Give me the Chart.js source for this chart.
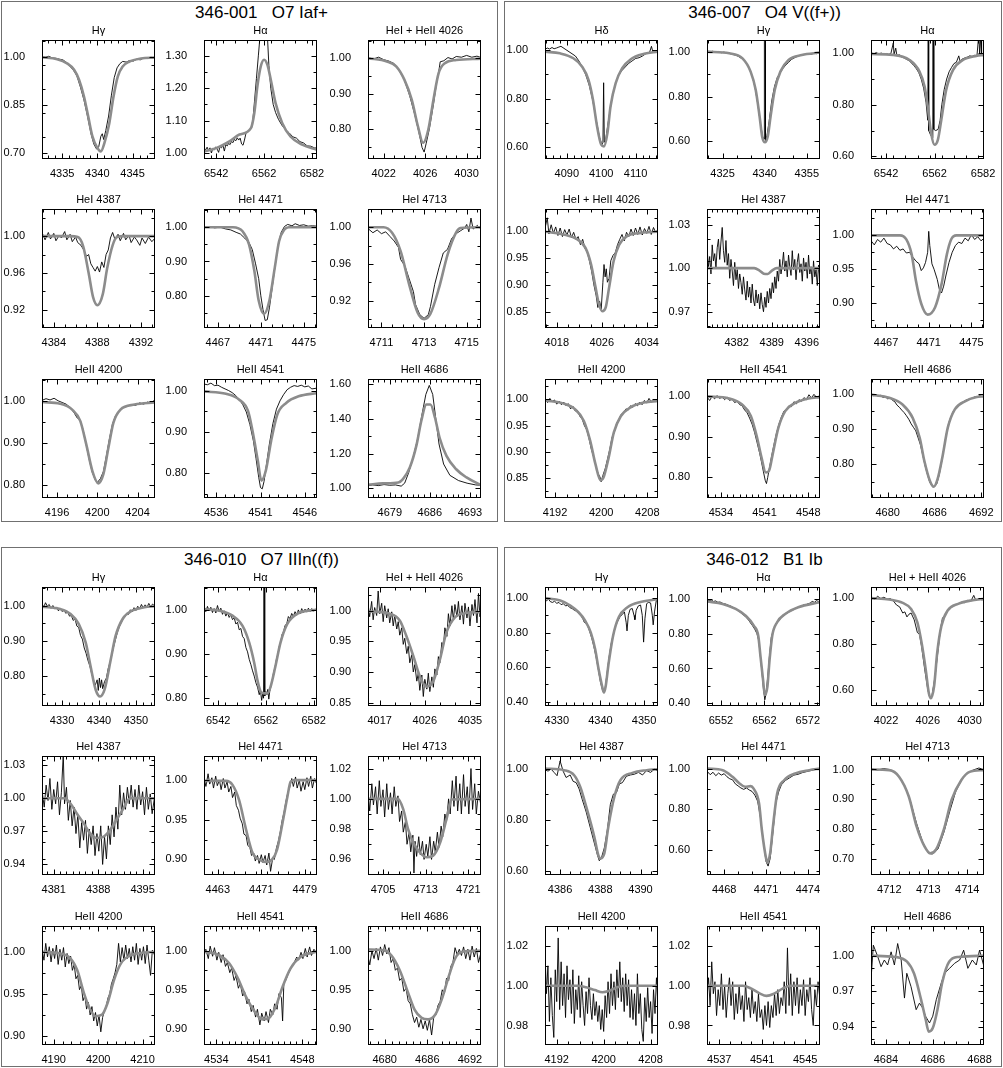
<!DOCTYPE html>
<html>
<head>
<meta charset="utf-8">
<script src="https://cdn.jsdelivr.net/npm/chart.js@4.4.1/dist/chart.umd.min.js"></script>
<style>
  body { margin: 0; background: #fff; }
  #page { position: relative; width: 1003px; height: 1068px; overflow: hidden; font-family: 'Liberation Sans', Arial, sans-serif; }
  .box { position: absolute; box-sizing: border-box; border: 1px solid #707070; }
  .star { position: absolute; width: 300px; text-align: center; font-size: 17px; line-height: 20px; white-space: pre; color: #000; }
  canvas { position: absolute; }
</style>
</head>
<body>
<div id="page"></div>
<script>
// ---------- 346-001  O7 Iaf+ ----------
const xt001Hg = [4335, 4340, 4345], yt001Hg = [0.70, 0.85, 1.00];
const fit001Hg = [[4332.1,0.998],[4334.3,0.992],[4335.7,0.979],[4336.7,0.959],[4337.4,0.928],[4338.1,0.876],[4338.7,0.814],[4339.3,0.752],[4340.0,0.716],[4340.5,0.705],[4341.0,0.731],[4341.7,0.793],[4342.3,0.876],[4342.9,0.938],[4343.6,0.969],[4344.5,0.984],[4346.2,0.994],[4348.2,0.997]];
const obs001Hg = [[4332.1,1.000],[4332.6,0.998],[4333.1,1.001],[4333.6,0.996],[4334.1,0.995],[4334.6,0.992],[4335.1,0.990],[4335.6,0.982],[4336.1,0.970],[4336.6,0.958],[4337.1,0.940],[4337.6,0.905],[4338.1,0.865],[4338.6,0.815],[4339.1,0.760],[4339.5,0.728],[4339.9,0.712],[4340.2,0.720],[4340.5,0.752],[4340.7,0.760],[4340.9,0.742],[4341.2,0.770],[4341.6,0.815],[4342.0,0.880],[4342.4,0.935],[4342.8,0.965],[4343.2,0.978],[4343.6,0.985],[4344.1,0.983],[4344.6,0.988],[4345.1,0.986],[4345.6,0.992],[4346.1,0.990],[4346.6,0.996],[4347.1,0.994],[4347.6,0.998],[4348.2,0.996]];

const xt001Ha = [6542, 6562, 6582], yt001Ha = [1.00, 1.10, 1.20, 1.30];
const fit001Ha = [[6536.9,1.005],[6542,1.015],[6547.5,1.036],[6551.7,1.057],[6556.5,1.077],[6557.9,1.123],[6559.2,1.206],[6560.6,1.267],[6562,1.288],[6563.4,1.272],[6564.8,1.226],[6566.8,1.154],[6569.6,1.092],[6573,1.051],[6577.9,1.026],[6584.1,1.010]];
const obs001Ha = [[6537,1.015],[6537.6,1.010],[6538.2,1.018],[6538.8,1.008],[6539.4,1.016],[6540,1.000],[6540.6,1.014],[6541.2,1.010],[6541.8,1.019],[6542.4,1.012],[6543,1.002],[6543.6,1.020],[6544.2,1.016],[6544.8,1.024],[6545.4,1.006],[6546,1.026],[6546.6,1.022],[6547.2,1.030],[6547.8,1.026],[6548.4,1.036],[6549,1.032],[6549.6,1.042],[6550.2,1.038],[6550.8,1.047],[6551.4,1.040],[6552,1.046],[6552.6,1.028],[6553.2,1.024],[6553.8,1.040],[6554.4,1.060],[6555,1.066],[6555.6,1.070],[6556.2,1.074],[6556.8,1.078],[6557.4,1.110],[6558,1.160],[6558.8,1.230],[6559.6,1.300],[6560.4,1.370],[6561.2,1.420],[6562,1.440],[6562.8,1.410],[6563.4,1.360],[6564,1.270],[6564.8,1.200],[6565.8,1.150],[6566.8,1.125],[6568,1.104],[6569.5,1.085],[6571,1.072],[6572.5,1.062],[6574,1.050],[6575.5,1.046],[6577,1.035],[6578.5,1.031],[6580,1.022],[6581.5,1.021],[6583,1.016],[6584.1,1.015]];

const xt001He26 = [4022, 4026, 4030], yt001He26 = [0.80, 0.90, 1.00];
const fit001He26 = [[4020.5,1.000],[4022.3,0.991],[4023.2,0.977],[4024.0,0.939],[4024.7,0.883],[4025.3,0.808],[4025.8,0.761],[4026.3,0.798],[4026.8,0.883],[4027.3,0.958],[4027.9,0.986],[4029.0,0.995],[4031.4,0.999]];
const obs001He26 = [[4020.5,1.002],[4021,0.998],[4021.5,1.003],[4022,0.996],[4022.5,0.992],[4023,0.985],[4023.5,0.965],[4024,0.938],[4024.5,0.895],[4025,0.840],[4025.4,0.790],[4025.7,0.748],[4025.9,0.735],[4026.1,0.760],[4026.4,0.800],[4026.8,0.870],[4027.1,0.930],[4027.3,0.960],[4027.45,0.990],[4027.8,0.993],[4028.2,1.002],[4028.6,0.998],[4029,1.005],[4029.5,1.003],[4030,1.008],[4030.5,1.003],[4031,1.006],[4031.4,1.002]];

const xt001He87 = [4384, 4388, 4392], yt001He87 = [0.92, 0.96, 1.00];
const fit001He87 = [[4382.9,1.0],[4385.5,1.0],[4386.2,0.999],[4386.7,0.989],[4387.2,0.960],[4387.6,0.934],[4388.0,0.925],[4388.5,0.937],[4388.9,0.965],[4389.4,0.990],[4389.8,0.999],[4390.5,1.0],[4393.3,1.0]];
const obs001He87 = [[4383.0,1.002],[4383.2,0.996],[4383.5,1.004],[4383.7,0.997],[4384.0,1.003],[4384.2,0.995],[4384.5,1.001],[4384.7,0.998],[4385.0,1.005],[4385.2,0.996],[4385.5,1.002],[4385.7,0.994],[4386.0,0.999],[4386.2,0.993],[4386.5,0.990],[4386.8,0.984],[4387.0,0.978],[4387.2,0.980],[4387.4,0.970],[4387.6,0.966],[4387.8,0.962],[4388.0,0.967],[4388.2,0.961],[4388.4,0.972],[4388.6,0.966],[4388.8,0.980],[4389.0,0.985],[4389.2,0.998],[4389.4,1.004],[4389.6,0.997],[4389.9,1.002],[4390.1,0.995],[4390.4,1.003],[4390.6,0.996],[4390.9,1.001],[4391.1,0.993],[4391.4,0.999],[4391.6,0.996],[4391.9,0.990],[4392.1,0.998],[4392.4,0.992],[4392.7,0.999],[4393.0,0.994],[4393.3,0.998]];

const xt001He71 = [4467, 4471, 4475], yt001He71 = [0.80, 0.90, 1.00];
const fit001He71 = [[4465.7,1.0],[4468.4,1.0],[4469.3,0.988],[4469.9,0.950],[4470.4,0.872],[4470.8,0.786],[4471.3,0.747],[4471.8,0.786],[4472.3,0.882],[4472.7,0.959],[4473.2,0.993],[4473.6,1.0],[4476.2,1.0]];
const obs001He71 = [[4465.7,1.0],[4466.2,1.002],[4466.7,0.998],[4467.2,1.0],[4467.7,0.995],[4468.2,0.992],[4468.7,0.985],[4469.1,0.980],[4469.5,0.968],[4469.9,0.955],[4470.2,0.935],[4470.5,0.895],[4470.8,0.850],[4471.0,0.800],[4471.2,0.760],[4471.4,0.728],[4471.6,0.730],[4471.8,0.765],[4472.0,0.810],[4472.3,0.880],[4472.6,0.945],[4472.9,0.985],[4473.2,1.002],[4473.5,1.008],[4473.9,1.004],[4474.2,1.010],[4474.6,1.005],[4475.0,1.007],[4475.4,1.003],[4475.8,1.004],[4476.2,1.003]];

const xt001He13 = [4711, 4713, 4715], yt001He13 = [0.92, 0.96, 1.00];
const fit001He13 = [[4710.4,1.0],[4711.1,1.0],[4711.5,0.994],[4711.9,0.974],[4712.3,0.938],[4712.7,0.907],[4713.0,0.900],[4713.3,0.906],[4713.7,0.934],[4714.1,0.970],[4714.5,0.994],[4714.7,0.999],[4715.7,1.0]];
const obs001He13 = [[4710.4,0.998],[4710.6,0.994],[4710.8,0.997],[4711.0,0.993],[4711.2,0.995],[4711.4,0.990],[4711.6,0.985],[4711.8,0.978],[4711.9,0.965],[4712.1,0.958],[4712.3,0.944],[4712.5,0.930],[4712.6,0.916],[4712.8,0.905],[4713.0,0.901],[4713.2,0.905],[4713.3,0.914],[4713.5,0.938],[4713.7,0.956],[4713.9,0.972],[4714.1,0.976],[4714.3,0.988],[4714.5,0.993],[4714.7,0.996],[4714.9,0.999],[4715.0,1.003],[4715.1,0.995],[4715.2,1.010],[4715.3,0.998],[4715.5,1.002],[4715.7,0.997]];

const xt001He00 = [4196, 4200, 4204], yt001He00 = [0.80, 0.90, 1.00];
const fit001He00 = [[4194.5,0.998],[4196.3,0.994],[4197.5,0.980],[4198.3,0.953],[4198.9,0.897],[4199.5,0.834],[4200.1,0.804],[4200.6,0.826],[4201.1,0.889],[4201.6,0.949],[4202.3,0.980],[4203.7,0.992],[4205.7,0.997]];
const obs001He00 = [[4194.5,1.002],[4194.9,1.006],[4195.3,1.003],[4195.7,1.007],[4196.1,1.001],[4196.5,0.997],[4196.9,0.993],[4197.3,0.985],[4197.7,0.972],[4198.0,0.960],[4198.3,0.955],[4198.6,0.930],[4198.9,0.895],[4199.2,0.860],[4199.5,0.830],[4199.8,0.812],[4200.0,0.806],[4200.3,0.815],[4200.6,0.832],[4200.9,0.870],[4201.2,0.910],[4201.5,0.945],[4201.8,0.965],[4202.2,0.978],[4202.6,0.985],[4203.0,0.988],[4203.4,0.992],[4203.8,0.990],[4204.2,0.996],[4204.6,0.993],[4205.0,0.998],[4205.4,0.995],[4205.7,1.004]];

const xt001He41 = [4536, 4541, 4546], yt001He41 = [0.80, 0.90, 1.00];
const fit001He41 = [[4534.6,0.998],[4537.1,0.992],[4538.6,0.978],[4539.6,0.950],[4540.1,0.902],[4540.7,0.830],[4541.1,0.782],[4541.6,0.806],[4542.2,0.878],[4542.9,0.942],[4543.9,0.970],[4545.3,0.986],[4547.4,0.994]];
const obs001He41 = [[4534.6,1.016],[4535.0,1.014],[4535.4,1.018],[4535.8,1.012],[4536.2,1.013],[4536.6,1.008],[4537.0,1.004],[4537.4,1.000],[4537.8,0.995],[4538.2,0.988],[4538.6,0.978],[4539.0,0.966],[4539.4,0.948],[4539.8,0.918],[4540.2,0.878],[4540.5,0.835],[4540.8,0.790],[4541.0,0.765],[4541.2,0.762],[4541.4,0.780],[4541.7,0.825],[4542.0,0.870],[4542.4,0.920],[4542.8,0.955],[4543.2,0.975],[4543.6,0.990],[4544.0,1.002],[4544.4,1.008],[4544.8,1.012],[4545.2,1.010],[4545.6,1.013],[4546.0,1.009],[4546.4,1.011],[4546.8,1.004],[4547.4,1.006]];

const xt001He86 = [4679, 4686, 4693], yt001He86 = [1.00, 1.20, 1.40, 1.60];
const fit001He86 = [[4675.2,1.021],[4677.8,1.029],[4680.5,1.034],[4681.3,1.053],[4682.5,1.120],[4683.7,1.253],[4684.5,1.387],[4685.4,1.482],[4686.1,1.482],[4686.9,1.406],[4687.7,1.291],[4688.9,1.187],[4690.6,1.110],[4692.4,1.063],[4694.9,1.019]];
const obs001He86 = [[4675.2,1.015],[4676.0,1.020],[4677.0,1.016],[4678.0,1.022],[4679.0,1.018],[4680.0,1.020],[4681.0,1.013],[4681.6,1.030],[4682.3,1.090],[4683.1,1.180],[4683.9,1.290],[4684.6,1.420],[4685.3,1.540],[4685.9,1.592],[4686.5,1.540],[4687.0,1.410],[4687.6,1.255],[4688.4,1.140],[4689.5,1.075],[4691.0,1.045],[4692.5,1.030],[4694.0,1.020],[4694.9,1.018]];

// ---------- 346-007  O4 V((f+)) ----------
const xt007Hd = [4090, 4100, 4110], yt007Hd = [0.60, 0.80, 1.00];
const fit007Hd = [[4083.7,0.993],[4088.0,0.986],[4091.9,0.966],[4094.4,0.932],[4096.3,0.877],[4097.6,0.795],[4098.8,0.685],[4100.0,0.610],[4100.8,0.603],[4101.8,0.658],[4102.7,0.767],[4104.2,0.863],[4106.1,0.925],[4108.6,0.962],[4112.5,0.984],[4116.5,0.993]];
const obs007Hd = [[4083.7,1.002],[4084.3,1.008],[4085.0,1.004],[4085.7,1.010],[4086.3,1.005],[4087.0,1.008],[4087.7,1.012],[4088.3,1.015],[4092.5,0.975],[4093.5,0.955],[4094.5,0.930],[4095.5,0.898],[4096.5,0.855],[4097.5,0.795],[4098.5,0.715],[4099.5,0.640],[4100.2,0.610],[4100.5,0.620],[4100.7,0.865],[4100.9,0.620],[4101.3,0.630],[4102.0,0.700],[4103.0,0.790],[4104.0,0.855],[4105.0,0.895],[4106.0,0.915],[4107.0,0.930],[4108.0,0.945],[4109.0,0.955],[4110.0,0.965],[4111.0,0.968],[4112.0,0.975],[4113.0,0.985],[4114.0,0.988],[4114.6,1.015],[4115.0,0.992],[4115.8,0.995],[4116.5,0.993]];

const xt007Hg = [4325, 4340, 4355], yt007Hg = [0.60, 0.80, 1.00];
const fit007Hg = [[4319.5,1.0],[4327.4,0.993],[4332.1,0.970],[4335.0,0.911],[4336.8,0.830],[4338.2,0.711],[4339.1,0.622],[4340.1,0.596],[4341.1,0.622],[4342.1,0.711],[4343.6,0.830],[4345.6,0.911],[4348.5,0.963],[4353.2,0.985],[4359.7,0.996]];
const obs007Hg = [[4319.5,1.003],[4320.5,0.997],[4321.5,1.002],[4322.5,0.998],[4323.5,1.001],[4324.5,0.995],[4325.5,0.998],[4326.5,0.994],[4327.5,0.992],[4328.5,0.988],[4329.5,0.985],[4330.5,0.980],[4331.5,0.972],[4332.5,0.963],[4333.5,0.948],[4334.5,0.925],[4335.5,0.893],[4336.5,0.845],[4337.5,0.770],[4338.5,0.680],[4339.3,0.620],[4339.8,0.610],[4339.9,1.08],[4340.2,1.08],[4340.3,0.605],[4340.8,0.625],[4341.6,0.690],[4342.5,0.780],[4343.5,0.845],[4344.5,0.885],[4345.5,0.905],[4346.5,0.925],[4347.5,0.940],[4348.5,0.952],[4349.5,0.965],[4350.5,0.972],[4351.5,0.978],[4352.5,0.983],[4353.5,0.985],[4354.5,0.988],[4355.5,0.990],[4356.5,0.988],[4357.5,0.993],[4358.5,0.991],[4359.7,0.995]];

const xt007Ha = [6542, 6562, 6582], yt007Ha = [0.60, 0.80, 1.00];
const fit007Ha = [[6535.8,0.997],[6544.8,0.994],[6551.7,0.974],[6555.8,0.929],[6557.9,0.871],[6559.2,0.794],[6560.6,0.690],[6562.0,0.645],[6563.4,0.665],[6564.8,0.742],[6566.8,0.858],[6569.6,0.935],[6573.7,0.974],[6579.2,0.990],[6582.4,0.994]];
const obs007Ha = [[6535.8,1.002],[6537,0.998],[6538,1.003],[6539,0.997],[6540,1.001],[6541,0.996],[6542,1.000],[6543,0.995],[6544,0.999],[6545,1.040],[6545.3,0.995],[6546,1.020],[6546.5,0.990],[6547.5,0.994],[6548.5,0.985],[6549.5,0.982],[6550.5,0.976],[6551.5,0.972],[6552.5,0.962],[6553.5,0.952],[6554.5,0.940],[6555.5,0.925],[6556.5,0.900],[6557.5,0.865],[6558.5,0.810],[6559.2,0.740],[6559.4,1.08],[6559.6,0.700],[6560.5,0.680],[6561.2,0.672],[6561.3,1.08],[6561.6,1.08],[6561.7,0.705],[6562.5,0.700],[6563.5,0.705],[6564.3,0.740],[6565.0,0.800],[6566,0.860],[6567,0.900],[6568,0.928],[6569,0.945],[6570,0.960],[6571,0.965],[6572,0.990],[6572.5,0.970],[6573.5,0.978],[6574.5,0.982],[6575.5,0.985],[6576.5,0.990],[6577.5,0.988],[6578.5,0.992],[6579.5,0.990],[6580.3,1.08],[6580.6,0.993],[6581.2,1.08],[6581.4,0.995],[6582.4,0.994]];

const xt007He26 = [4018, 4026, 4034], yt007He26 = [0.85, 0.90, 0.95, 1.00];
const fit007He26 = [[4015.9,0.999],[4019.2,0.994],[4021.6,0.985],[4023.1,0.969],[4024.1,0.938],[4024.9,0.895],[4025.5,0.864],[4026.1,0.851],[4026.7,0.858],[4027.3,0.895],[4028.1,0.944],[4029.1,0.975],[4030.5,0.991],[4032.9,0.997],[4036.0,0.999]];
const obs007He26 = [[4016.0,1.010],[4016.3,1.025],[4016.6,0.995],[4017.0,1.012],[4017.4,0.996],[4017.8,1.008],[4018.2,0.992],[4018.6,1.006],[4019.0,0.990],[4019.4,1.003],[4019.8,0.993],[4020.2,1.004],[4020.6,0.988],[4021.0,0.998],[4021.4,0.985],[4021.8,0.990],[4022.2,0.975],[4022.6,0.985],[4023.0,0.968],[4023.4,0.962],[4023.8,0.945],[4024.2,0.925],[4024.6,0.900],[4025.0,0.880],[4025.3,0.858],[4025.6,0.870],[4025.9,0.855],[4026.2,0.905],[4026.4,0.938],[4026.6,0.915],[4026.8,0.930],[4027.0,0.905],[4027.3,0.912],[4027.6,0.945],[4028.0,0.955],[4028.4,0.960],[4028.8,0.975],[4029.2,0.985],[4029.6,0.994],[4030.0,0.982],[4030.4,0.998],[4030.8,0.990],[4031.2,1.004],[4031.6,0.992],[4032.0,1.006],[4032.4,0.994],[4032.8,1.008],[4033.2,0.993],[4033.6,1.005],[4034.0,0.996],[4034.4,1.009],[4034.8,0.994],[4035.2,1.007],[4035.6,0.997],[4036.0,1.004]];

const xt007He87 = [4382, 4389, 4396], yt007He87 = [0.97, 1.00, 1.03];
const fit007He87 = [[4376.1,1.0],[4385.5,1.0],[4386.5,0.9985],[4387.4,0.9962],[4388.2,0.996],[4389.1,0.9985],[4390.0,1.0],[4398.6,1.0]];
const obs007He87 = [[4376.1,1.012],[4376.35,1.001],[4376.6,1.008],[4376.85,0.996],[4377.1,1.016],[4377.35,1.005],[4377.6,1.010],[4377.85,1.000],[4378.1,1.014],[4378.35,1.020],[4378.6,1.006],[4378.85,1.018],[4379.1,1.028],[4379.35,1.012],[4379.6,1.004],[4379.85,1.019],[4380.1,1.002],[4380.35,1.010],[4380.6,0.993],[4380.85,1.006],[4381.1,0.998],[4381.35,0.988],[4381.6,1.004],[4381.85,0.992],[4382.1,0.999],[4382.35,0.986],[4382.6,0.996],[4382.85,0.990],[4383.1,0.982],[4383.35,0.994],[4383.6,0.985],[4383.85,0.978],[4384.1,0.991],[4384.35,0.980],[4384.6,0.987],[4384.85,0.976],[4385.1,0.989],[4385.35,0.978],[4385.6,0.974],[4385.85,0.985],[4386.1,0.976],[4386.35,0.982],[4386.6,0.972],[4386.85,0.983],[4387.1,0.975],[4387.35,0.970],[4387.6,0.980],[4387.85,0.973],[4388.1,0.984],[4388.35,0.976],[4388.6,0.986],[4388.85,0.979],[4389.1,0.990],[4389.35,0.983],[4389.6,0.994],[4389.85,0.986],[4390.1,0.998],[4390.35,0.991],[4390.6,1.006],[4390.85,0.996],[4391.1,1.002],[4391.35,1.011],[4391.6,0.998],[4391.85,1.005],[4392.1,0.994],[4392.35,1.009],[4392.6,1.001],[4392.85,0.995],[4393.1,1.012],[4393.35,0.999],[4393.6,1.006],[4393.85,0.992],[4394.1,1.004],[4394.35,1.010],[4394.6,0.997],[4394.85,1.003],[4395.1,0.991],[4395.35,1.007],[4395.6,0.998],[4395.85,1.004],[4396.1,0.993],[4396.35,1.009],[4396.6,0.996],[4396.85,1.001],[4397.1,0.989],[4397.35,1.005],[4397.6,0.994],[4397.85,0.999],[4398.1,0.988],[4398.35,1.002],[4398.6,0.994]];

const xt007He71 = [4467, 4471, 4475], yt007He71 = [0.90, 0.95, 1.00];
const fit007He71 = [[4465.6,1.0],[4468.3,1.0],[4468.9,0.994],[4469.4,0.972],[4469.8,0.933],[4470.3,0.899],[4470.9,0.883],[4471.6,0.894],[4472.2,0.928],[4472.7,0.972],[4473.1,0.994],[4473.6,1.0],[4476.2,1.0]];
const obs007He71 = [[4465.6,0.992],[4465.9,0.986],[4466.2,0.994],[4466.5,0.990],[4466.8,0.996],[4467.1,0.988],[4467.4,0.986],[4467.7,0.980],[4468.0,0.984],[4468.3,0.978],[4468.6,0.980],[4468.9,0.974],[4469.2,0.975],[4469.5,0.968],[4469.8,0.962],[4470.1,0.958],[4470.3,0.948],[4470.5,0.952],[4470.7,0.960],[4470.9,0.975],[4471.0,1.006],[4471.1,0.985],[4471.3,0.958],[4471.5,0.950],[4471.8,0.935],[4472.0,0.920],[4472.2,0.915],[4472.4,0.925],[4472.6,0.940],[4472.9,0.960],[4473.2,0.975],[4473.5,0.985],[4473.8,0.990],[4474.1,0.988],[4474.4,0.996],[4474.7,0.992],[4475.0,1.001],[4475.3,0.994],[4475.6,0.998],[4475.9,0.992],[4476.2,0.996]];

const xt007He00 = [4192, 4200, 4208], yt007He00 = [0.85, 0.90, 0.95, 1.00];
const fit007He00 = [[4190.3,0.998],[4193.5,0.992],[4195.5,0.981],[4197.0,0.959],[4198.1,0.921],[4199.0,0.877],[4199.9,0.846],[4200.4,0.851],[4201.3,0.889],[4202.2,0.937],[4203.4,0.968],[4205.1,0.985],[4207.4,0.994],[4209.9,0.997]];
const obs007He00 = [[4190.3,1.000],[4190.7,0.994],[4191.1,1.002],[4191.5,0.996],[4191.9,0.999],[4192.3,0.991],[4192.7,0.997],[4193.1,0.990],[4193.5,0.995],[4193.9,0.988],[4194.3,0.992],[4194.7,0.982],[4195.1,0.987],[4195.5,0.978],[4195.9,0.979],[4196.3,0.968],[4196.7,0.963],[4197.1,0.950],[4197.5,0.942],[4197.9,0.925],[4198.3,0.905],[4198.7,0.890],[4199.1,0.872],[4199.5,0.858],[4199.8,0.852],[4200.0,0.843],[4200.3,0.855],[4200.7,0.868],[4201.1,0.886],[4201.5,0.905],[4201.9,0.928],[4202.3,0.938],[4202.7,0.955],[4203.1,0.962],[4203.5,0.972],[4203.9,0.975],[4204.3,0.982],[4204.7,0.980],[4205.1,0.988],[4205.5,0.985],[4205.9,0.992],[4206.3,0.988],[4206.7,0.995],[4207.1,0.990],[4207.5,0.998],[4207.9,0.993],[4208.3,1.002],[4208.7,0.995],[4209.1,0.999],[4209.5,0.996],[4209.9,1.000]];

const xt007He41 = [4534, 4541, 4548], yt007He41 = [0.80, 0.90, 1.00];
const fit007He41 = [[4531.8,0.998],[4535.3,0.993],[4537.4,0.978],[4538.8,0.950],[4539.8,0.897],[4540.5,0.849],[4541.2,0.812],[4541.7,0.816],[4542.3,0.857],[4543.2,0.921],[4544.3,0.962],[4545.9,0.982],[4548.0,0.993],[4549.9,0.996]];
const obs007He41 = [[4531.8,0.996],[4532.2,0.988],[4532.6,0.998],[4533.0,0.992],[4533.4,1.000],[4533.8,0.993],[4534.2,0.997],[4534.6,0.990],[4535.0,0.996],[4535.4,0.988],[4535.8,0.992],[4536.2,0.983],[4536.6,0.986],[4537.0,0.978],[4537.4,0.975],[4537.8,0.965],[4538.2,0.958],[4538.6,0.945],[4539.0,0.930],[4539.4,0.910],[4539.8,0.885],[4540.2,0.860],[4540.5,0.838],[4540.8,0.815],[4541.1,0.793],[4541.3,0.785],[4541.5,0.800],[4541.8,0.825],[4542.1,0.850],[4542.5,0.880],[4542.9,0.908],[4543.3,0.930],[4543.7,0.948],[4544.1,0.962],[4544.5,0.965],[4544.9,0.975],[4545.3,0.973],[4545.7,0.985],[4546.1,0.980],[4546.5,0.990],[4546.9,0.986],[4547.3,0.995],[4547.7,0.990],[4548.1,1.002],[4548.5,0.994],[4548.9,1.003],[4549.3,0.996],[4549.9,1.000]];

const xt007He86 = [4680, 4686, 4692], yt007He86 = [0.80, 0.90, 1.00];
const fit007He86 = [[4677.9,0.998],[4680.2,0.989],[4681.9,0.970],[4683.2,0.932],[4684.1,0.875],[4684.7,0.809],[4685.4,0.753],[4685.9,0.736],[4686.4,0.758],[4687.0,0.819],[4687.7,0.904],[4688.6,0.956],[4689.9,0.979],[4691.4,0.991],[4692.3,0.993]];
const obs007He86 = [[4677.9,0.999],[4678.2,0.995],[4678.5,0.997],[4678.8,0.993],[4679.1,0.996],[4679.4,0.990],[4679.7,0.992],[4680.0,0.986],[4680.3,0.988],[4680.6,0.982],[4680.9,0.978],[4681.2,0.968],[4681.5,0.962],[4681.8,0.954],[4682.1,0.947],[4682.4,0.938],[4682.7,0.928],[4683.0,0.915],[4683.3,0.905],[4683.6,0.895],[4683.9,0.875],[4684.2,0.855],[4684.5,0.825],[4684.8,0.795],[4685.1,0.770],[4685.4,0.748],[4685.7,0.738],[4686.0,0.736],[4686.3,0.745],[4686.6,0.770],[4686.9,0.805],[4687.2,0.845],[4687.5,0.885],[4687.8,0.915],[4688.1,0.935],[4688.4,0.950],[4688.8,0.962],[4689.2,0.972],[4689.6,0.976],[4690.0,0.982],[4690.4,0.985],[4690.8,0.988],[4691.2,0.992],[4691.6,0.993],[4692.0,0.998],[4692.3,0.999]];

// ---------- 346-010  O7 IIIn((f)) ----------
const xt010Hg = [4330, 4340, 4350], yt010Hg = [0.80, 0.90, 1.00];
const fit010Hg = [[4324.5,0.997],[4329.5,0.990],[4332.3,0.976],[4334.5,0.948],[4336.4,0.895],[4337.7,0.829],[4339.1,0.762],[4340.3,0.743],[4341.5,0.762],[4343.2,0.848],[4344.5,0.914],[4346.4,0.962],[4349.1,0.986],[4352.3,0.995],[4355.2,0.998]];
const obs010Hg = [[4324.6,1.005],[4325.0,0.995],[4325.5,1.008],[4326.0,0.998],[4326.5,1.003],[4327.0,0.992],[4327.5,1.000],[4328.0,0.990],[4328.5,0.996],[4329.0,0.985],[4329.5,0.992],[4330.0,0.983],[4330.5,0.988],[4331.0,0.978],[4331.5,0.982],[4332.0,0.970],[4332.5,0.972],[4333.0,0.958],[4333.5,0.962],[4334.0,0.942],[4334.5,0.938],[4335.0,0.915],[4335.5,0.905],[4336.0,0.880],[4336.5,0.865],[4337.0,0.845],[4337.5,0.830],[4338.0,0.808],[4338.5,0.790],[4339.0,0.775],[4339.5,0.790],[4339.8,0.760],[4340.1,0.795],[4340.4,0.768],[4340.7,0.790],[4341.0,0.765],[4341.5,0.785],[4342.0,0.795],[4342.5,0.822],[4343.0,0.840],[4343.5,0.862],[4344.0,0.885],[4344.5,0.905],[4345.0,0.925],[4345.5,0.940],[4346.0,0.952],[4346.5,0.962],[4347.0,0.968],[4347.5,0.978],[4348.0,0.975],[4348.5,0.988],[4349.0,0.982],[4349.5,0.994],[4350.0,0.986],[4350.5,0.998],[4351.0,0.990],[4351.5,1.003],[4352.0,0.993],[4352.5,1.002],[4353.0,0.995],[4353.5,1.006],[4354.0,0.996],[4354.5,1.004],[4355.2,0.998]];

const xt010Ha = [6542, 6562, 6582], yt010Ha = [0.80, 0.90, 1.00];
const fit010Ha = [[6536.1,1.002],[6542.6,0.998],[6548.0,0.987],[6552.2,0.964],[6555.0,0.926],[6557.1,0.880],[6558.4,0.842],[6559.8,0.815],[6561.2,0.811],[6562.6,0.811],[6564.0,0.827],[6566.0,0.873],[6568.1,0.926],[6570.9,0.968],[6575.0,0.991],[6583.4,1.001]];
const obs010Ha = [[6536.1,1.005],[6536.8,0.996],[6537.5,1.008],[6538.2,0.998],[6538.9,1.006],[6539.6,0.994],[6540.3,1.003],[6541.0,0.993],[6541.7,1.010],[6542.4,0.996],[6543.1,1.004],[6543.8,0.990],[6544.5,0.998],[6545.2,0.986],[6545.9,0.994],[6546.6,0.983],[6547.3,0.989],[6548.0,0.978],[6548.7,0.982],[6549.4,0.968],[6550.1,0.972],[6550.8,0.955],[6551.5,0.958],[6552.2,0.940],[6552.9,0.935],[6553.6,0.915],[6554.3,0.905],[6555.0,0.888],[6555.7,0.876],[6556.4,0.862],[6557.1,0.850],[6557.8,0.835],[6558.5,0.825],[6559.2,0.808],[6559.7,0.818],[6560.2,0.795],[6560.7,0.812],[6561.0,0.800],[6561.2,1.08],[6561.4,1.08],[6561.6,0.805],[6562.0,0.815],[6562.4,0.808],[6562.8,0.820],[6563.2,0.798],[6563.6,0.815],[6564.0,0.825],[6564.6,0.840],[6565.2,0.858],[6565.8,0.870],[6566.4,0.888],[6567.0,0.900],[6567.6,0.918],[6568.2,0.928],[6568.8,0.945],[6569.4,0.950],[6570.0,0.965],[6570.7,0.968],[6571.4,0.985],[6572.1,0.980],[6572.8,0.992],[6573.5,0.985],[6574.2,0.996],[6574.9,0.988],[6575.6,1.000],[6576.3,0.991],[6577.0,1.003],[6577.7,0.994],[6578.4,1.002],[6579.1,0.995],[6579.8,1.004],[6580.5,0.996],[6581.2,1.003],[6581.9,0.997],[6582.6,1.001],[6583.4,0.998]];

const xt010He26 = [4017, 4026, 4035], yt010He26 = [0.85, 0.90, 0.95, 1.00];
const fit010He26 = [[4014.7,0.999],[4019.0,0.995],[4021.0,0.984],[4022.3,0.959],[4023.7,0.926],[4025.0,0.893],[4026.3,0.876],[4027.7,0.885],[4029.0,0.920],[4030.3,0.964],[4032.0,0.989],[4034.3,0.996],[4037.2,0.998]];
const obs010He26 = [[4014.7,1.010],[4015.0,0.990],[4015.4,1.015],[4015.7,0.985],[4016.0,1.005],[4016.4,0.992],[4016.7,1.032],[4017.0,0.995],[4017.4,1.012],[4017.7,0.982],[4018.0,1.008],[4018.4,0.988],[4018.7,1.003],[4019.0,0.980],[4019.4,0.998],[4019.7,0.975],[4020.0,0.992],[4020.4,0.970],[4020.7,0.982],[4021.0,0.960],[4021.4,0.972],[4021.7,0.945],[4022.0,0.955],[4022.4,0.930],[4022.7,0.942],[4023.0,0.915],[4023.4,0.928],[4023.7,0.900],[4024.0,0.912],[4024.4,0.885],[4024.7,0.898],[4025.0,0.870],[4025.4,0.895],[4025.7,0.860],[4026.0,0.888],[4026.4,0.872],[4026.7,0.898],[4027.0,0.868],[4027.4,0.892],[4027.7,0.875],[4028.0,0.905],[4028.4,0.895],[4028.7,0.925],[4029.0,0.915],[4029.4,0.948],[4029.7,0.940],[4030.0,0.972],[4030.4,0.958],[4030.7,0.995],[4031.0,0.975],[4031.4,1.008],[4031.7,0.985],[4032.0,1.010],[4032.4,0.990],[4032.7,1.015],[4033.0,0.985],[4033.4,1.008],[4033.7,0.978],[4034.0,1.012],[4034.4,0.988],[4034.7,1.006],[4035.0,0.975],[4035.4,1.010],[4035.7,0.992],[4036.0,1.018],[4036.4,0.980],[4036.7,1.028],[4037.0,0.990],[4037.2,1.005]];

const xt010He87 = [4381, 4388, 4395], yt010He87 = [0.94, 0.97, 1.00, 1.03];
const fit010He87 = [[4379.2,1.0],[4382.6,1.0],[4383.6,0.9955],[4384.6,0.9865],[4385.7,0.9775],[4386.7,0.9685],[4387.8,0.964],[4388.8,0.965],[4389.9,0.9715],[4390.9,0.9805],[4392.0,0.991],[4392.7,0.9985],[4393.3,1.0],[4396.9,1.0]];
const obs010He87 = [[4379.2,1.005],[4379.5,0.992],[4379.8,1.012],[4380.1,0.998],[4380.4,1.018],[4380.7,0.990],[4381.0,1.008],[4381.3,0.995],[4381.6,1.015],[4381.9,0.985],[4382.2,1.005],[4382.5,1.040],[4382.7,0.995],[4383.0,1.010],[4383.3,0.980],[4383.6,0.998],[4383.9,0.975],[4384.2,0.992],[4384.5,0.968],[4384.8,0.985],[4385.1,0.955],[4385.4,0.978],[4385.7,0.962],[4386.0,0.980],[4386.3,0.950],[4386.6,0.972],[4386.9,0.958],[4387.2,0.975],[4387.5,0.948],[4387.8,0.968],[4388.1,0.952],[4388.4,0.975],[4388.7,0.940],[4389.0,0.965],[4389.3,0.945],[4389.6,0.975],[4389.9,0.958],[4390.2,0.985],[4390.5,0.965],[4390.8,0.992],[4391.1,0.972],[4391.4,1.012],[4391.7,0.985],[4392.0,1.005],[4392.3,0.990],[4392.6,1.010],[4392.9,0.995],[4393.2,1.012],[4393.5,0.992],[4393.8,1.008],[4394.1,0.990],[4394.4,1.012],[4394.7,0.994],[4395.0,1.006],[4395.3,0.985],[4395.6,1.010],[4395.9,0.990],[4396.2,1.004],[4396.5,0.986],[4396.9,1.002]];

const xt010He71 = [4463, 4471, 4479], yt010He71 = [0.90, 0.95, 1.00];
const fit010He71 = [[4460.5,0.999],[4464.5,0.999],[4465.7,0.994],[4466.9,0.975],[4468.2,0.9375],[4469.4,0.908],[4470.6,0.900],[4471.8,0.8967],[4473.0,0.900],[4473.9,0.9125],[4474.9,0.946],[4475.8,0.979],[4476.4,0.998],[4477.3,1.0],[4481.2,1.0]];
const obs010He71 = [[4460.5,1.002],[4460.8,0.992],[4461.2,1.008],[4461.5,0.995],[4461.9,1.003],[4462.2,0.990],[4462.6,1.005],[4462.9,0.993],[4463.3,1.000],[4463.6,0.988],[4464.0,1.002],[4464.3,0.990],[4464.7,0.998],[4465.0,0.985],[4465.4,0.992],[4465.7,0.978],[4466.1,0.985],[4466.4,0.968],[4466.8,0.962],[4467.1,0.952],[4467.5,0.945],[4467.8,0.932],[4468.2,0.930],[4468.5,0.918],[4468.9,0.915],[4469.2,0.905],[4469.6,0.908],[4469.9,0.898],[4470.3,0.905],[4470.6,0.895],[4471.0,0.906],[4471.3,0.896],[4471.7,0.905],[4472.0,0.893],[4472.4,0.908],[4472.7,0.885],[4473.1,0.902],[4473.4,0.900],[4473.8,0.915],[4474.1,0.922],[4474.5,0.935],[4474.8,0.948],[4475.2,0.960],[4475.5,0.972],[4475.9,0.985],[4476.2,0.990],[4476.6,1.002],[4476.9,0.992],[4477.3,1.004],[4477.6,0.990],[4478.0,1.000],[4478.3,0.986],[4478.7,0.998],[4479.0,0.988],[4479.4,1.003],[4479.7,0.992],[4480.1,1.005],[4480.4,0.990],[4480.8,1.002],[4481.2,0.995]];

const xt010He13 = [4705, 4713, 4721], yt010He13 = [0.96, 0.98, 1.00, 1.02];
const fit010He13 = [[4702.2,1.0],[4707.8,1.0],[4708.8,0.993],[4709.7,0.980],[4710.7,0.971],[4711.9,0.9647],[4713.2,0.9614],[4714.4,0.9625],[4715.7,0.971],[4716.9,0.9865],[4717.9,0.9996],[4723.4,1.0]];
const obs010He13 = [[4702.2,1.004],[4702.5,0.992],[4702.9,1.010],[4703.2,0.996],[4703.6,1.008],[4703.9,0.990],[4704.3,1.012],[4704.6,0.995],[4705.0,1.006],[4705.3,0.988],[4705.7,1.010],[4706.0,0.993],[4706.4,1.004],[4706.7,0.990],[4707.1,1.008],[4707.4,0.995],[4707.8,1.002],[4708.1,0.985],[4708.5,0.992],[4708.8,0.978],[4709.2,0.985],[4709.5,0.970],[4709.9,0.978],[4710.2,0.965],[4710.6,0.976],[4710.8,0.951],[4711.0,0.972],[4711.3,0.962],[4711.7,0.975],[4712.0,0.963],[4712.4,0.972],[4712.7,0.960],[4713.1,0.970],[4713.4,0.962],[4713.8,0.975],[4714.1,0.960],[4714.5,0.972],[4714.8,0.965],[4715.2,0.978],[4715.5,0.968],[4715.9,0.982],[4716.2,0.975],[4716.6,0.990],[4716.9,0.985],[4717.3,1.000],[4717.6,0.990],[4718.0,1.012],[4718.3,0.995],[4718.7,1.015],[4719.0,0.992],[4719.4,1.010],[4719.7,0.990],[4720.1,1.016],[4720.4,0.995],[4720.8,1.008],[4721.1,0.990],[4721.5,1.020],[4721.8,0.993],[4722.2,1.010],[4722.5,0.990],[4722.9,1.005],[4723.4,0.995]];

const xt010He00 = [4190, 4200, 4210], yt010He00 = [0.90, 0.95, 1.00];
const fit010He00 = [[4187.4,1.0],[4191.5,0.998],[4193.8,0.992],[4195.3,0.978],[4196.8,0.951],[4197.9,0.935],[4199.4,0.9235],[4200.9,0.9255],[4202.1,0.939],[4203.6,0.967],[4205.1,0.986],[4207.4,0.996],[4212.8,1.0]];
const obs010He00 = [[4187.4,1.002],[4187.8,0.990],[4188.2,1.010],[4188.6,0.994],[4189.0,1.006],[4189.4,0.988],[4189.8,1.004],[4190.2,0.992],[4190.6,1.008],[4191.0,0.985],[4191.4,1.003],[4191.8,0.990],[4192.2,1.005],[4192.6,0.982],[4193.0,0.998],[4193.4,0.986],[4193.8,0.995],[4194.2,0.978],[4194.6,0.985],[4195.0,0.968],[4195.4,0.972],[4195.8,0.955],[4196.2,0.960],[4196.6,0.942],[4197.0,0.948],[4197.4,0.932],[4197.8,0.940],[4198.2,0.925],[4198.6,0.935],[4199.0,0.918],[4199.4,0.928],[4199.8,0.912],[4200.2,0.925],[4200.6,0.905],[4201.0,0.922],[4201.4,0.930],[4201.8,0.935],[4202.2,0.945],[4202.6,0.950],[4203.0,0.962],[4203.4,0.968],[4203.8,0.975],[4204.2,0.985],[4204.6,1.010],[4205.0,0.988],[4205.4,1.005],[4205.8,0.990],[4206.2,1.008],[4206.6,0.992],[4207.0,1.004],[4207.4,0.988],[4207.8,1.006],[4208.2,0.990],[4208.6,1.010],[4209.0,0.985],[4209.4,1.004],[4209.8,0.990],[4210.2,1.006],[4210.6,0.986],[4211.0,1.008],[4211.4,0.990],[4211.8,0.972],[4212.2,1.002],[4212.8,0.995]];

const xt010He41 = [4534, 4541, 4548], yt010He41 = [0.90, 0.95, 1.00];
const fit010He41 = [[4532.0,0.999],[4534.5,0.9945],[4536.1,0.984],[4537.5,0.965],[4538.8,0.9415],[4540.2,0.9225],[4541.5,0.912],[4542.6,0.914],[4543.7,0.929],[4544.8,0.954],[4546.1,0.9775],[4547.7,0.992],[4550.4,0.999]];
const obs010He41 = [[4532.0,0.995],[4532.3,1.002],[4532.7,0.990],[4533.0,1.006],[4533.4,0.993],[4533.7,1.004],[4534.1,0.988],[4534.4,0.998],[4534.8,0.985],[4535.1,0.995],[4535.5,0.980],[4535.8,0.985],[4536.2,0.972],[4536.5,0.978],[4536.9,0.962],[4537.2,0.968],[4537.6,0.952],[4537.9,0.958],[4538.3,0.942],[4538.6,0.948],[4539.0,0.932],[4539.3,0.938],[4539.7,0.922],[4540.0,0.930],[4540.4,0.915],[4540.7,0.925],[4541.1,0.905],[4541.4,0.920],[4541.8,0.910],[4542.1,0.922],[4542.5,0.908],[4542.8,0.925],[4543.2,0.918],[4543.5,0.932],[4543.9,0.925],[4544.2,0.945],[4544.6,0.940],[4544.8,0.910],[4545.0,0.958],[4545.3,0.962],[4545.7,0.970],[4546.0,0.975],[4546.4,0.982],[4546.7,0.985],[4547.1,0.992],[4547.4,0.988],[4547.8,0.998],[4548.1,0.990],[4548.5,1.003],[4548.8,0.992],[4549.2,1.005],[4549.5,0.994],[4549.9,1.002],[4550.4,0.996]];

const xt010He86 = [4680, 4686, 4692], yt010He86 = [0.90, 0.95, 1.00];
const fit010He86 = [[4677.6,1.0017],[4679.8,1.0008],[4680.9,0.9945],[4682.1,0.9754],[4683.3,0.946],[4684.2,0.9246],[4685.2,0.914],[4686.1,0.912],[4687.1,0.918],[4688.0,0.937],[4689.0,0.967],[4689.9,0.990],[4690.9,0.9987],[4693.6,1.0]];
const obs010He86 = [[4677.6,0.995],[4677.9,0.982],[4678.2,1.000],[4678.5,0.990],[4678.8,1.003],[4679.1,0.988],[4679.4,1.005],[4679.7,0.994],[4680.0,1.008],[4680.3,0.996],[4680.6,1.004],[4680.9,0.985],[4681.2,0.990],[4681.5,0.975],[4681.8,0.978],[4682.1,0.962],[4682.4,0.965],[4682.7,0.948],[4683.0,0.952],[4683.3,0.936],[4683.6,0.932],[4683.9,0.918],[4684.2,0.908],[4684.5,0.915],[4684.8,0.902],[4685.1,0.912],[4685.4,0.900],[4685.7,0.910],[4686.0,0.898],[4686.3,0.912],[4686.6,0.892],[4686.9,0.915],[4687.2,0.918],[4687.5,0.930],[4687.8,0.935],[4688.1,0.950],[4688.4,0.945],[4688.7,0.965],[4689.0,0.962],[4689.3,0.980],[4689.6,0.985],[4689.9,1.004],[4690.2,0.995],[4690.5,1.002],[4690.8,0.994],[4691.1,1.005],[4691.4,0.990],[4691.7,1.002],[4692.0,0.988],[4692.3,1.006],[4692.6,0.992],[4692.9,1.003],[4693.2,0.985],[4693.6,1.000]];

// ---------- 346-012  B1 Ib ----------
const xt012Hg = [4330, 4340, 4350], yt012Hg = [0.40, 0.60, 0.80, 1.00];
const fit012Hg = [[4327.3,1.000],[4330.8,0.986],[4333.1,0.957],[4335.0,0.918],[4336.5,0.869],[4337.8,0.800],[4338.8,0.703],[4339.6,0.586],[4340.4,0.488],[4340.8,0.453],[4341.2,0.488],[4341.9,0.625],[4342.9,0.781],[4344.2,0.889],[4346.2,0.947],[4349.2,0.978],[4353.2,0.994]];
const obs012Hg = [[4327.3,0.990],[4327.7,0.985],[4328.1,0.995],[4328.5,0.980],[4329.0,0.975],[4329.5,0.982],[4330.0,0.970],[4330.5,0.975],[4331.0,0.962],[4331.5,0.968],[4332.0,0.955],[4332.5,0.958],[4333.0,0.945],[4333.5,0.940],[4334.0,0.930],[4334.5,0.925],[4335.0,0.910],[4335.5,0.900],[4336.0,0.880],[4336.3,0.860],[4336.6,0.855],[4337.0,0.845],[4337.5,0.810],[4338.0,0.770],[4338.5,0.720],[4339.0,0.660],[4339.5,0.590],[4340.0,0.515],[4340.5,0.465],[4340.8,0.452],[4341.1,0.480],[4341.5,0.560],[4342.0,0.660],[4342.5,0.740],[4343.0,0.795],[4343.5,0.840],[4344.0,0.868],[4344.5,0.892],[4345.0,0.905],[4345.5,0.920],[4345.9,0.860],[4346.1,0.810],[4346.4,0.900],[4346.8,0.935],[4347.3,0.940],[4347.7,0.900],[4347.9,0.875],[4348.2,0.930],[4348.7,0.955],[4349.2,0.960],[4349.6,0.900],[4349.9,0.745],[4350.2,0.880],[4350.6,0.968],[4351.0,0.975],[4351.5,0.972],[4351.9,0.900],[4352.1,0.845],[4352.4,0.920],[4352.8,0.985],[4353.2,0.988]];

const xt012Ha = [6552, 6562, 6572], yt012Ha = [0.40, 0.60, 0.80, 1.00];
const fit012Ha = [[6548.8,0.9845],[6552.4,0.971],[6555.4,0.942],[6557.7,0.903],[6559.6,0.845],[6560.6,0.787],[6561.1,0.671],[6561.7,0.535],[6562.1,0.448],[6562.7,0.496],[6563.2,0.651],[6563.8,0.787],[6564.9,0.864],[6566.8,0.913],[6569.8,0.952],[6574.8,0.981]];
const obs012Ha = [[6548.8,0.995],[6549.3,0.990],[6549.8,0.993],[6550.3,0.985],[6550.8,0.988],[6551.3,0.980],[6551.8,0.982],[6552.3,0.975],[6552.8,0.972],[6553.3,0.968],[6553.8,0.962],[6554.3,0.958],[6554.8,0.950],[6555.3,0.945],[6555.8,0.935],[6556.3,0.925],[6556.8,0.915],[6557.3,0.905],[6557.8,0.895],[6558.3,0.880],[6558.8,0.862],[6559.3,0.845],[6559.8,0.825],[6560.3,0.800],[6560.7,0.760],[6561.0,0.690],[6561.4,0.590],[6561.8,0.480],[6562.1,0.420],[6562.4,0.455],[6562.8,0.560],[6563.2,0.680],[6563.6,0.780],[6564.0,0.815],[6564.5,0.845],[6565.0,0.865],[6565.5,0.880],[6566.0,0.895],[6566.5,0.905],[6567.0,0.915],[6567.5,0.922],[6568.0,0.930],[6568.5,0.935],[6569.0,0.942],[6569.5,0.948],[6570.0,0.955],[6570.5,0.958],[6571.0,0.965],[6571.5,0.962],[6572.0,0.972],[6572.5,0.975],[6573.0,0.985],[6573.5,0.980],[6574.0,0.990],[6574.4,0.985],[6574.8,0.990]];

const xt012He26 = [4022, 4026, 4030], yt012He26 = [0.60, 0.80, 1.00];
const fit012He26 = [[4020.6,1.0],[4022.3,0.994],[4023.6,0.979],[4024.4,0.953],[4025.0,0.894],[4025.4,0.806],[4025.8,0.688],[4026.1,0.585],[4026.3,0.563],[4026.6,0.615],[4026.9,0.762],[4027.3,0.879],[4027.9,0.946],[4028.9,0.975],[4030.3,0.991],[4031.4,0.997]];
const obs012He26 = [[4020.6,1.002],[4020.9,0.996],[4021.2,1.008],[4021.5,0.998],[4021.8,1.004],[4022.1,0.995],[4022.4,0.998],[4022.7,0.988],[4023.0,0.970],[4023.3,0.962],[4023.6,0.935],[4023.8,0.940],[4024.0,0.918],[4024.2,0.930],[4024.4,0.935],[4024.7,0.905],[4025.0,0.850],[4025.2,0.842],[4025.4,0.790],[4025.7,0.690],[4026.0,0.600],[4026.2,0.565],[4026.4,0.575],[4026.7,0.660],[4027.0,0.780],[4027.2,0.860],[4027.4,0.912],[4027.7,0.930],[4028.0,0.955],[4028.3,0.960],[4028.6,0.972],[4028.9,0.975],[4029.2,0.982],[4029.5,0.980],[4029.8,0.990],[4030.1,0.985],[4030.4,1.012],[4030.6,0.990],[4030.9,0.998],[4031.2,0.992],[4031.4,1.000]];

const xt012He87 = [4386, 4388, 4390], yt012He87 = [0.60, 0.80, 1.00];
const fit012He87 = [[4385.25,1.0],[4386.2,0.9935],[4386.7,0.974],[4387.0,0.929],[4387.3,0.851],[4387.7,0.734],[4387.9,0.662],[4388.0,0.649],[4388.2,0.669],[4388.4,0.773],[4388.7,0.890],[4389.0,0.955],[4389.6,0.983],[4390.3,0.9935],[4390.87,0.997]];
const obs012He87 = [[4385.25,0.995],[4385.4,0.990],[4385.55,0.998],[4385.7,0.985],[4385.85,0.972],[4386.0,1.030],[4386.15,0.990],[4386.3,0.965],[4386.5,0.975],[4386.65,0.950],[4386.8,0.945],[4386.95,0.920],[4387.1,0.880],[4387.3,0.830],[4387.5,0.770],[4387.7,0.710],[4387.85,0.665],[4387.95,0.640],[4388.05,0.650],[4388.2,0.690],[4388.35,0.760],[4388.5,0.860],[4388.65,0.900],[4388.8,0.905],[4388.95,0.940],[4389.1,0.945],[4389.3,0.970],[4389.5,0.975],[4389.7,0.978],[4389.9,0.985],[4390.1,0.975],[4390.3,0.992],[4390.5,0.985],[4390.7,0.998],[4390.87,0.990]];

const xt012He71 = [4468, 4471, 4474], yt012He71 = [0.60, 0.80, 1.00];
const fit012He71 = [[4466.8,1.0],[4467.9,0.992],[4468.6,0.9595],[4469.1,0.927],[4469.5,0.911],[4469.9,0.914],[4470.1,0.903],[4470.5,0.830],[4470.7,0.700],[4471.0,0.562],[4471.1,0.541],[4471.3,0.587],[4471.5,0.717],[4471.8,0.878],[4472.3,0.943],[4473.1,0.976],[4474.1,0.992],[4474.87,1.0]];
const obs012He71 = [[4466.8,0.985],[4467.0,0.970],[4467.2,0.982],[4467.4,0.965],[4467.6,0.978],[4467.8,0.968],[4468.0,0.975],[4468.2,0.960],[4468.4,0.950],[4468.6,0.945],[4468.8,0.925],[4469.0,0.915],[4469.2,0.905],[4469.4,0.898],[4469.6,0.905],[4469.8,0.895],[4470.0,0.888],[4470.2,0.870],[4470.4,0.840],[4470.6,0.760],[4470.8,0.650],[4471.0,0.545],[4471.15,0.522],[4471.3,0.560],[4471.5,0.690],[4471.7,0.830],[4471.9,0.885],[4472.1,0.920],[4472.4,0.942],[4472.7,0.955],[4473.0,0.968],[4473.3,0.972],[4473.6,0.980],[4473.9,0.985],[4474.2,0.990],[4474.5,0.995],[4474.87,1.002]];

const xt012He13 = [4712, 4713, 4714], yt012He13 = [0.70, 0.80, 0.90, 1.00];
const fit012He13 = [[4711.53,1.0],[4712.0,0.998],[4712.25,0.976],[4712.5,0.910],[4712.7,0.810],[4712.9,0.744],[4713.05,0.720],[4713.2,0.733],[4713.4,0.800],[4713.6,0.899],[4713.85,0.965],[4714.06,0.992],[4714.43,0.998]];
const obs012He13 = [[4711.53,1.002],[4711.7,0.998],[4711.85,1.003],[4712.0,1.000],[4712.1,0.995],[4712.25,0.975],[4712.4,0.945],[4712.55,0.890],[4712.7,0.820],[4712.85,0.760],[4713.0,0.722],[4713.1,0.718],[4713.25,0.735],[4713.4,0.790],[4713.55,0.860],[4713.7,0.925],[4713.85,0.965],[4714.0,0.988],[4714.15,0.998],[4714.3,1.005],[4714.43,0.999]];

const xt012He00 = [4192, 4200, 4208], yt012He00 = [0.98, 1.00, 1.02];
const fit012He00 = [[4190.0,1.0],[4195.5,1.0],[4197.0,0.9992],[4198.5,0.9978],[4199.8,0.9967],[4201.0,0.9975],[4202.3,0.9992],[4203.5,1.0],[4209.26,1.0]];
const obs012He00 = [[4190.0,1.016],[4190.25,0.996],[4190.5,1.010],[4190.75,0.982],[4191.0,1.004],[4191.25,0.985],[4191.5,0.974],[4191.75,1.008],[4192.0,0.992],[4192.25,1.024],[4192.5,0.988],[4192.75,1.012],[4193.0,0.990],[4193.25,1.006],[4193.5,0.984],[4193.75,1.010],[4194.0,0.993],[4194.25,1.003],[4194.5,0.986],[4194.75,1.008],[4195.0,0.981],[4195.25,0.998],[4195.5,0.988],[4195.75,1.005],[4196.0,0.984],[4196.25,1.002],[4196.5,0.990],[4196.75,0.980],[4197.0,0.997],[4197.25,0.986],[4197.5,1.004],[4197.75,0.990],[4198.0,0.983],[4198.25,0.996],[4198.5,0.985],[4198.75,0.992],[4199.0,0.982],[4199.25,0.990],[4199.5,0.978],[4199.75,0.988],[4200.0,0.977],[4200.25,0.995],[4200.5,0.984],[4200.75,1.002],[4201.0,0.986],[4201.25,1.006],[4201.5,0.990],[4201.75,1.002],[4202.0,0.988],[4202.25,1.008],[4202.5,0.994],[4202.75,1.012],[4203.0,0.992],[4203.25,1.004],[4203.5,0.987],[4203.75,1.006],[4204.0,0.990],[4204.25,1.003],[4204.5,0.984],[4204.75,0.998],[4205.0,0.983],[4205.25,0.996],[4205.5,0.980],[4205.75,1.006],[4206.0,0.986],[4206.25,0.996],[4206.5,0.978],[4206.75,0.972],[4207.0,0.994],[4207.25,0.982],[4207.5,0.999],[4207.75,0.984],[4208.0,0.992],[4208.25,0.976],[4208.5,0.998],[4208.75,0.986],[4209.0,1.004],[4209.26,0.990]];

const xt012He41 = [4537, 4541, 4545], yt012He41 = [0.98, 1.00, 1.02];
const fit012He41 = [[4535.86,1.0],[4539.2,1.0],[4540.0,0.9985],[4540.8,0.996],[4541.4,0.9949],[4542.1,0.996],[4542.9,0.9985],[4543.6,1.0],[4546.38,1.0]];
const obs012He41 = [[4535.86,0.994],[4536.0,1.004],[4536.15,0.990],[4536.3,1.012],[4536.45,0.996],[4536.6,1.002],[4536.75,0.985],[4536.9,0.998],[4537.05,0.990],[4537.2,1.006],[4537.35,0.988],[4537.5,1.000],[4537.65,0.984],[4537.8,0.996],[4537.95,1.004],[4538.1,0.990],[4538.25,1.002],[4538.4,0.983],[4538.55,0.996],[4538.7,0.986],[4538.85,1.000],[4539.0,0.988],[4539.15,0.995],[4539.3,0.982],[4539.45,1.002],[4539.6,0.988],[4539.75,0.994],[4539.9,0.984],[4540.05,0.998],[4540.2,0.986],[4540.35,0.992],[4540.5,0.982],[4540.65,0.996],[4540.8,0.984],[4540.95,0.988],[4541.1,0.978],[4541.25,0.990],[4541.4,0.980],[4541.55,0.992],[4541.7,0.979],[4541.85,0.990],[4542.0,0.984],[4542.15,0.996],[4542.3,0.985],[4542.45,0.998],[4542.6,0.986],[4542.75,0.994],[4542.9,0.990],[4543.05,1.002],[4543.2,0.986],[4543.35,1.019],[4543.5,0.990],[4543.65,1.006],[4543.8,0.985],[4543.95,1.002],[4544.1,0.990],[4544.25,1.004],[4544.4,0.986],[4544.55,0.998],[4544.7,0.990],[4544.85,1.003],[4545.0,0.985],[4545.15,0.998],[4545.3,0.992],[4545.45,1.004],[4545.6,0.988],[4545.75,0.980],[4545.9,0.998],[4546.05,0.990],[4546.2,1.002],[4546.38,0.993]];

const xt012He86 = [4684, 4686, 4688], yt012He86 = [0.94, 0.97, 1.00];
const fit012He86 = [[4683.36,1.0],[4684.4,0.999],[4684.9,0.995],[4685.2,0.985],[4685.5,0.963],[4685.7,0.946],[4685.83,0.936],[4686.0,0.939],[4686.2,0.9545],[4686.4,0.977],[4686.7,0.995],[4687.1,0.999],[4688.19,1.0]];
const obs012He86 = [[4683.36,0.9796],[4683.46,1.0089],[4683.65,0.9992],[4683.79,0.9908],[4683.93,0.9964],[4684.07,0.9922],[4684.22,1.0033],[4684.36,0.9922],[4684.5,1.0103],[4684.65,0.9964],[4684.79,0.9643],[4684.89,0.9852],[4685.07,0.974],[4685.29,0.9545],[4685.43,0.960],[4685.57,0.9559],[4685.69,0.949],[4685.86,0.9433],[4686.0,0.949],[4686.15,0.9629],[4686.36,0.9768],[4686.5,0.9852],[4686.72,0.9894],[4686.93,0.9936],[4687.15,0.9964],[4687.32,1.0047],[4687.5,0.9894],[4687.69,0.9964],[4687.86,0.9922],[4688.0,1.0047],[4688.19,0.9908]];

// ---------- layout of the four stars ----------
const stars = [
  { name: '346-001   O7 Iaf+', cells: [
    { t: 'Hγ', obs: obs001Hg, fit: fit001Hg, xt: xt001Hg, yt: yt001Hg, xr: [4332.14, 4348.19], yr: [0.6814, 1.0517], xm: 1 },
    { t: 'Hα', obs: obs001Ha, fit: fit001Ha, xt: xt001Ha, yt: yt001Ha, xr: [6536.9, 6584.1], yr: [0.9815, 1.349], xm: 5 },
    { t: 'HeI + HeII 4026', obs: obs001He26, fit: fit001He26, xt: xt001He26, yt: yt001He26, xr: [4020.48, 4031.39], yr: [0.7155, 1.0516], xm: 1 },
    { t: 'HeI 4387', obs: obs001He87, fit: fit001He87, xt: xt001He87, yt: yt001He87, xr: [4382.92, 4393.29], yr: [0.9002, 1.0295], xm: 1 },
    { t: 'HeI 4471', obs: obs001He71, fit: fit001He71, xt: xt001He71, yt: yt001He71, xr: [4465.71, 4476.23], yr: [0.706, 1.053], xm: 1 },
    { t: 'HeI 4713', obs: obs001He13, fit: fit001He13, xt: xt001He13, yt: yt001He13, xr: [4710.37, 4715.67], yr: [0.8905, 1.0198], xm: 0.5 },
    { t: 'HeII 4200', obs: obs001He00, fit: fit001He00, xt: xt001He00, yt: yt001He00, xr: [4194.5, 4205.73], yr: [0.769, 1.053], xm: 1 },
    { t: 'HeII 4541', obs: obs001He41, fit: fit001He41, xt: xt001He41, yt: yt001He41, xr: [4534.62, 4547.38], yr: [0.7398, 1.028], xm: 1 },
    { t: 'HeII 4686', obs: obs001He86, fit: fit001He86, xt: xt001He86, yt: yt001He86, xr: [4675.2, 4694.93], yr: [0.9448, 1.6286], xm: 1 }
  ]},
  { name: '346-007   O4 V((f+))', cells: [
    { t: 'Hδ', obs: obs007Hd, fit: fit007Hd, xt: xt007Hd, yt: yt007Hd, xr: [4083.66, 4116.5], yr: [0.551, 1.041], xm: 2 },
    { t: 'Hγ', obs: obs007Hg, fit: fit007Hg, xt: xt007Hg, yt: yt007Hg, xr: [4319.47, 4359.7], yr: [0.5215, 1.052], xm: 5 },
    { t: 'Hα', obs: obs007Ha, fit: fit007Ha, xt: xt007Ha, yt: yt007Ha, xr: [6535.8, 6582.4], yr: [0.5897, 1.0516], xm: 5 },
    { t: 'HeI + HeII 4026', obs: obs007He26, fit: fit007He26, xt: xt007He26, yt: yt007He26, xr: [4015.9, 4036.0], yr: [0.8198, 1.0414], xm: 2 },
    { t: 'HeI 4387', obs: obs007He87, fit: fit007He87, xt: xt007He87, yt: yt007He87, xr: [4376.06, 4398.64], yr: [0.9588, 1.0407], xm: 1 },
    { t: 'HeI 4471', obs: obs007He71, fit: fit007He71, xt: xt007He71, yt: yt007He71, xr: [4465.59, 4476.18], yr: [0.8632, 1.039], xm: 1 },
    { t: 'HeII 4200', obs: obs007He00, fit: fit007He00, xt: xt007He00, yt: yt007He00, xr: [4190.26, 4209.86], yr: [0.812, 1.039], xm: 2 },
    { t: 'HeII 4541', obs: obs007He41, fit: fit007He41, xt: xt007He41, yt: yt007He41, xr: [4531.78, 4549.87], yr: [0.7498, 1.0405], xm: 1 },
    { t: 'HeII 4686', obs: obs007He86, fit: fit007He86, xt: xt007He86, yt: yt007He86, xr: [4677.86, 4692.34], yr: [0.7038, 1.0425], xm: 1 }
  ]},
  { name: '346-010   O7 IIIn((f))', cells: [
    { t: 'Hγ', obs: obs010Hg, fit: fit010Hg, xt: xt010Hg, yt: yt010Hg, xr: [4324.55, 4355.18], yr: [0.716, 1.0524], xm: 2 },
    { t: 'Hα', obs: obs010Ha, fit: fit010Ha, xt: xt010Ha, yt: yt010Ha, xr: [6536.05, 6583.4], yr: [0.7824, 1.0519], xm: 5 },
    { t: 'HeI + HeII 4026', obs: obs010He26, fit: fit010He26, xt: xt010He26, yt: yt010He26, xr: [4014.67, 4037.2], yr: [0.8445, 1.0385], xm: 3 },
    { t: 'HeI 4387', obs: obs010He87, fit: fit010He87, xt: xt010He87, yt: yt010He87, xr: [4379.15, 4396.95], yr: [0.9304, 1.0384], xm: 1 },
    { t: 'HeI 4471', obs: obs010He71, fit: fit010He71, xt: xt010He71, yt: yt010He71, xr: [4460.45, 4481.25], yr: [0.8804, 1.0304], xm: 2 },
    { t: 'HeI 4713', obs: obs010He13, fit: fit010He13, xt: xt010He13, yt: yt010He13, xr: [4702.18, 4723.38], yr: [0.9497, 1.0283], xm: 2 },
    { t: 'HeII 4200', obs: obs010He00, fit: fit010He00, xt: xt010He00, yt: yt010He00, xr: [4187.36, 4212.8], yr: [0.8894, 1.0306], xm: 2 },
    { t: 'HeII 4541', obs: obs010He41, fit: fit010He41, xt: xt010He41, yt: yt010He41, xr: [4532.0, 4550.4], yr: [0.8792, 1.0318], xm: 1 },
    { t: 'HeII 4686', obs: obs010He86, fit: fit010He86, xt: xt010He86, yt: yt010He86, xr: [4677.65, 4693.55], yr: [0.8792, 1.0318], xm: 1 }
  ]},
  { name: '346-012   B1 Ib', cells: [
    { t: 'Hγ', obs: obs012Hg, fit: fit012Hg, xt: xt012Hg, yt: yt012Hg, xr: [4327.3, 4353.2], yr: [0.3746, 1.0645], xm: 2 },
    { t: 'Hα', obs: obs012Ha, fit: fit012Ha, xt: xt012Ha, yt: yt012Ha, xr: [6548.8, 6574.8], yr: [0.3845, 1.068], xm: 2 },
    { t: 'HeI + HeII 4026', obs: obs012He26, fit: fit012He26, xt: xt012He26, yt: yt012He26, xr: [4020.56, 4031.38], yr: [0.5294, 1.0485], xm: 1 },
    { t: 'HeI 4387', obs: obs012He87, fit: fit012He87, xt: xt012He87, yt: yt012He87, xr: [4385.25, 4390.87], yr: [0.5844, 1.049], xm: 0.5 },
    { t: 'HeI 4471', obs: obs012He71, fit: fit012He71, xt: xt012He71, yt: yt012He71, xr: [4466.77, 4474.87], yr: [0.4784, 1.0616], xm: 1 },
    { t: 'HeI 4713', obs: obs012He13, fit: fit012He13, xt: xt012He13, yt: yt012He13, xr: [4711.53, 4714.43], yr: [0.648, 1.045], xm: 0.25 },
    { t: 'HeII 4200', obs: obs012He00, fit: fit012He00, xt: xt012He00, yt: yt012He00, xr: [4190.0, 4209.26], yr: [0.9702, 1.03], xm: 2 },
    { t: 'HeII 4541', obs: obs012He41, fit: fit012He41, xt: xt012He41, yt: yt012He41, xr: [4535.86, 4546.38], yr: [0.9702, 1.03], xm: 1 },
    { t: 'HeII 4686', obs: obs012He86, fit: fit012He86, xt: xt012He86, yt: yt012He86, xr: [4683.36, 4688.19], yr: [0.9247, 1.0251], xm: 0.5 }
  ]}
];

const FONT = "'Liberation Sans', Arial, Helvetica, sans-serif";
const colLeft = [42, 204, 368];
const rowTop = [[40, 209, 379], [587, 756, 926]];
const PW = 113, PH = 119, AXW = 42, TOPH = 22, BOTH = 22, RPAD = 12;
const boxes = [[1, 1, 497, 521], [504, 1, 498, 521], [1, 547, 497, 520], [504, 547, 498, 520]];

// frame with inward major/minor ticks on all four sides
const framePlugin = {
  id: 'frame',
  afterDraw(chart) {
    const { ctx, chartArea: a, scales: { x, y } } = chart;
    const cfg = chart.config.options.plugins.frame;
    const L = Math.round(a.left) + 0.5, R = Math.round(a.right) - 0.5;
    const T = Math.round(a.top) + 0.5, B = Math.round(a.bottom) - 0.5;
    ctx.save();
    ctx.strokeStyle = '#000';
    ctx.lineWidth = 1;
    ctx.strokeRect(L, T, R - L, B - T);
    ctx.beginPath();
    const near = (v, arr, s) => arr.some(m => Math.abs(m - v) < s * 1e-3);
    const xTick = (v, len) => {
      const p = Math.round(x.getPixelForValue(v)) + 0.5;
      if (p < L || p > R) return;
      ctx.moveTo(p, B); ctx.lineTo(p, B - len);
      ctx.moveTo(p, T); ctx.lineTo(p, T + len);
    };
    const yTick = (v, len) => {
      const p = Math.round(y.getPixelForValue(v)) + 0.5;
      if (p < T || p > B) return;
      ctx.moveTo(L, p); ctx.lineTo(L + len, p);
      ctx.moveTo(R, p); ctx.lineTo(R - len, p);
    };
    for (let v = Math.ceil(x.min / cfg.xm) * cfg.xm; v <= x.max; v += cfg.xm) {
      if (!near(v, cfg.xt, cfg.xm)) xTick(v, 3);
    }
    for (let v = Math.ceil(y.min / cfg.ym) * cfg.ym; v <= y.max; v += cfg.ym) {
      if (!near(v, cfg.yt, cfg.ym)) yTick(v, 3);
    }
    cfg.xt.forEach(v => xTick(v, 5));
    cfg.yt.forEach(v => yTick(v, 5));
    ctx.stroke();
    ctx.restore();
  }
};

const page = document.getElementById('page');

stars.forEach((star, si) => {
  const dx = si % 2 ? 503 : 0;
  const tops = rowTop[si < 2 ? 0 : 1];
  const b = boxes[si];
  const box = document.createElement('div');
  box.className = 'box';
  Object.assign(box.style, { left: b[0] + 'px', top: b[1] + 'px', width: b[2] + 'px', height: b[3] + 'px' });
  page.appendChild(box);

  const head = document.createElement('div');
  head.className = 'star';
  head.textContent = star.name;
  Object.assign(head.style, { left: (261.5 + dx - 150) + 'px', top: (tops[0] - 37) + 'px' });
  page.appendChild(head);

  star.cells.forEach((c, ci) => {
    const col = ci % 3, row = Math.floor(ci / 3);
    const cv = document.createElement('canvas');
    const W = AXW + PW + RPAD, H = TOPH + PH + BOTH;
    cv.width = W; cv.height = H;
    Object.assign(cv.style, {
      left: (colLeft[col] + dx - AXW) + 'px',
      top: (tops[row] - TOPH) + 'px',
      width: W + 'px', height: H + 'px'
    });
    page.appendChild(cv);

    const ystep = c.yt[1] - c.yt[0];
    new Chart(cv, {
      type: 'line',
      data: {
        datasets: [
          { data: c.fit, borderColor: '#8c8c8c', borderWidth: 2.6, pointRadius: 0, cubicInterpolationMode: 'monotone', clip: 0 },
          { data: c.obs, borderColor: '#000', borderWidth: 0.9, pointRadius: 0, tension: 0, clip: 0 }
        ]
      },
      options: {
        responsive: false,
        animation: false,
        devicePixelRatio: 1,
        events: [],
        layout: { padding: { left: 0, right: RPAD, top: 0, bottom: 0 } },
        plugins: {
          legend: { display: false },
          tooltip: { enabled: false },
          title: {
            display: true, text: c.t, fullSize: false, color: '#000',
            font: { family: FONT, size: 11, weight: 'normal' },
            padding: { top: 6.4, bottom: 2.4 }
          },
          frame: { xt: c.xt, yt: c.yt, xm: c.xm, ym: ystep / 2 }
        },
        scales: {
          x: {
            type: 'linear', min: c.xr[0], max: c.xr[1],
            afterBuildTicks: s => { s.ticks = c.xt.map(v => ({ value: v })); },
            afterFit: s => { s.height = BOTH; s.paddingLeft = 0; s.paddingRight = 0; },
            grid: { display: false }, border: { display: false },
            ticks: { color: '#000', font: { family: FONT, size: 11 }, padding: 0, maxRotation: 0, autoSkip: false, callback: v => String(v) }
          },
          y: {
            type: 'linear', min: c.yr[0], max: c.yr[1],
            afterBuildTicks: s => { s.ticks = c.yt.map(v => ({ value: v })); },
            afterFit: s => { s.width = AXW; s.paddingTop = 0; s.paddingBottom = 0; },
            grid: { display: false }, border: { display: false },
            ticks: { color: '#000', font: { family: FONT, size: 11 }, padding: 9, autoSkip: false, callback: v => v.toFixed(2) }
          }
        }
      },
      plugins: [framePlugin]
    });
  });
});
</script>
</body>
</html>
